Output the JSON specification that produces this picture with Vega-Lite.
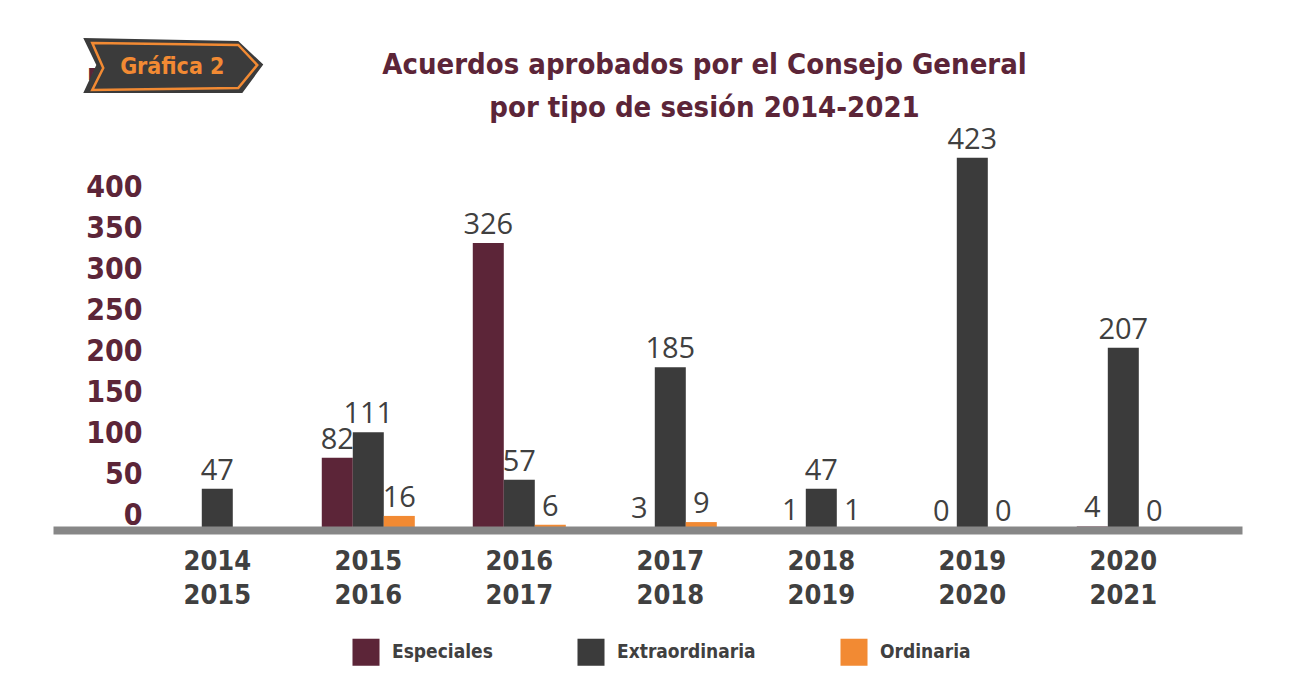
{
  "$schema": "https://vega.github.io/schema/vega-lite/v6.json",
  "autosize": {"type": "none"},
  "width": 1189,
  "height": 440,
  "padding": {"left": 53, "top": 90, "right": 53, "bottom": 154},
  "background": "white",
  "title": {
    "text": ["Acuerdos aprobados por el Consejo General", "por tipo de sesión 2014-2021"],
    "font": "'DejaVu Sans Condensed', 'Liberation Sans Narrow', Roboto, sans-serif",
    "fontSize": 29,
    "fontWeight": "bold",
    "color": "#5c2538",
    "lineHeight": 43,
    "anchor": "middle",
    "dx": 57,
    "offset": -85
  },
  "data": {
    "values": [
      {"periodo": "2014-2015", "tipo": "Extraordinaria", "acuerdos": 47},
      {"periodo": "2015-2016", "tipo": "Especiales", "acuerdos": 82},
      {"periodo": "2015-2016", "tipo": "Extraordinaria", "acuerdos": 111},
      {"periodo": "2015-2016", "tipo": "Ordinaria", "acuerdos": 16},
      {"periodo": "2016-2017", "tipo": "Especiales", "acuerdos": 326},
      {"periodo": "2016-2017", "tipo": "Extraordinaria", "acuerdos": 57},
      {"periodo": "2016-2017", "tipo": "Ordinaria", "acuerdos": 6},
      {"periodo": "2017-2018", "tipo": "Especiales", "acuerdos": 3},
      {"periodo": "2017-2018", "tipo": "Extraordinaria", "acuerdos": 185},
      {"periodo": "2017-2018", "tipo": "Ordinaria", "acuerdos": 9},
      {"periodo": "2018-2019", "tipo": "Especiales", "acuerdos": 1},
      {"periodo": "2018-2019", "tipo": "Extraordinaria", "acuerdos": 47},
      {"periodo": "2018-2019", "tipo": "Ordinaria", "acuerdos": 1},
      {"periodo": "2019-2020", "tipo": "Especiales", "acuerdos": 0},
      {"periodo": "2019-2020", "tipo": "Extraordinaria", "acuerdos": 423},
      {"periodo": "2019-2020", "tipo": "Ordinaria", "acuerdos": 0},
      {"periodo": "2020-2021", "tipo": "Especiales", "acuerdos": 4},
      {"periodo": "2020-2021", "tipo": "Extraordinaria", "acuerdos": 207},
      {"periodo": "2020-2021", "tipo": "Ordinaria", "acuerdos": 0}
    ]
  },
  "layer": [
    {
      "mark": {"type": "bar"},
      "encoding": {
        "x": {
          "field": "periodo",
          "type": "nominal",
          "scale": {"paddingInner": 0.384, "paddingOuter": 0.629, "align": 0.62},
          "axis": {
            "title": null,
            "labelExpr": "split(datum.label, '-')",
            "labelAngle": 0,
            "domainColor": "#878787",
            "domainWidth": 8,
            "ticks": false,
            "labelFont": "'DejaVu Sans Condensed', 'Liberation Sans Narrow', Roboto, sans-serif",
            "labelFontSize": 27,
            "labelFontWeight": "bold",
            "labelColor": "#404040",
            "labelPadding": 18,
            "labelLineHeight": 34,
            "zindex": 1
          }
        },
        "xOffset": {"field": "tipo", "type": "nominal"},
        "y": {
          "field": "acuerdos",
          "type": "quantitative",
          "scale": {"domain": [0, 500], "nice": false},
          "axis": {
            "title": null,
            "values": [0, 50, 100, 150, 200, 250, 300, 350, 400, 500],
            "domain": false,
            "ticks": false,
            "grid": false,
            "labelFont": "'DejaVu Sans Condensed', 'Liberation Sans Narrow', Roboto, sans-serif",
            "labelFontSize": 30,
            "labelFontWeight": "bold",
            "labelColor": "#5c2538",
            "labelPadding": 0,
            "offset": -89,
            "labelBaseline": "middle",
            "labelOffset": {"expr": "datum.value == 500 ? -10 : -15 + datum.value * 0.06"}
          }
        },
        "color": {
          "field": "tipo",
          "type": "nominal",
          "scale": {"domain": ["Especiales", "Extraordinaria", "Ordinaria"], "range": ["#5c2538", "#3b3b3b", "#f28a33"]},
          "legend": {
            "title": null,
            "orient": "none",
            "legendX": 299,
            "legendY": 548,
            "direction": "horizontal",
            "symbolType": "square",
            "symbolSize": 730,
            "symbolStrokeWidth": 0,
            "symbolOpacity": 1,
            "labelFont": "'DejaVu Sans Condensed', 'Liberation Sans Narrow', Roboto, sans-serif",
            "labelFontSize": 19,
            "labelFontWeight": "bold",
            "labelColor": "#404040",
            "labelOffset": 12,
            "columnPadding": 84
          }
        }
      }
    },
    {
      "mark": {"type": "text", "baseline": "bottom", "dy": -3, "font": "Open Sans", "fontSize": 29, "color": "#404040"},
      "encoding": {
        "x": {"field": "periodo", "type": "nominal"},
        "xOffset": {"field": "tipo", "type": "nominal"},
        "y": {"field": "acuerdos", "type": "quantitative"},
        "text": {"field": "acuerdos", "type": "quantitative"}
      }
    },
    {
      "data": {"values": [{"periodo": "2014-2015", "insignia": "Gráfica 2", "posicion": 530}]},
      "mark": {
        "type": "point",
        "shape": "M-1.489,-0.284L0.233,-0.251L0.511,0.01L0.278,0.327L-1.489,0.327L-1.344,0.016Z",
        "size": 32400,
        "filled": true,
        "color": "#3b3b3b",
        "opacity": 1
      },
      "encoding": {
        "x": {"field": "periodo", "type": "nominal"},
        "y": {"field": "posicion", "type": "quantitative"}
      }
    },
    {
      "data": {"values": [{"periodo": "2014-2015", "insignia": "Gráfica 2", "posicion": 530}]},
      "mark": {
        "type": "point",
        "shape": "M-1.389,-0.229L0.233,-0.207L0.444,0.016L0.233,0.271L-1.389,0.293L-1.267,0.049Z",
        "size": 32400,
        "filled": false,
        "stroke": "#f28a33",
        "strokeWidth": 2.5,
        "opacity": 1
      },
      "encoding": {
        "x": {"field": "periodo", "type": "nominal"},
        "y": {"field": "posicion", "type": "quantitative"}
      }
    },
    {
      "data": {"values": [{"periodo": "2014-2015", "insignia": "Gráfica 2", "posicion": 530}]},
      "mark": {"type": "text", "dx": -45, "dy": 3, "baseline": "middle", "align": "center", "font": "'DejaVu Sans Condensed', 'Liberation Sans Narrow', Roboto, sans-serif", "fontSize": 23, "fontWeight": "bold", "color": "#f28a33"},
      "encoding": {
        "x": {"field": "periodo", "type": "nominal"},
        "y": {"field": "posicion", "type": "quantitative"},
        "text": {"field": "insignia", "type": "nominal"}
      }
    }
  ],
  "config": {"view": {"stroke": null}}
}
